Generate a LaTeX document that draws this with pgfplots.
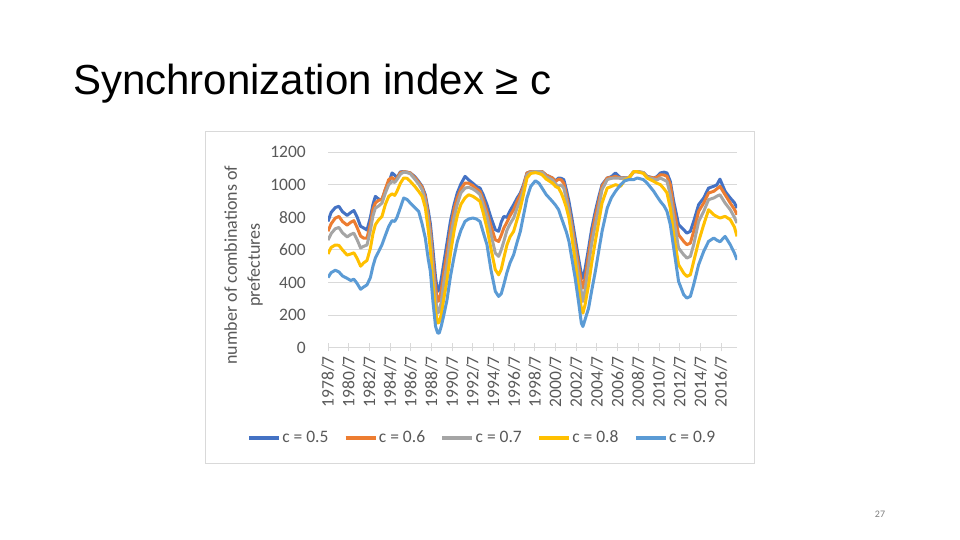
\documentclass[border=0pt]{standalone}
\usepackage{fontspec}
\setmainfont{Carlito}
\newfontfamily\titlefont{Liberation Sans}
\usepackage{pgfplots}
\pgfplotsset{compat=1.18}
\usepackage{pgfplotstable}
\definecolor{cA}{HTML}{4472C4}
\definecolor{cB}{HTML}{ED7D31}
\definecolor{cC}{HTML}{A5A5A5}
\definecolor{cD}{HTML}{FFC000}
\definecolor{cE}{HTML}{5B9BD5}
\definecolor{gridc}{HTML}{D9D9D9}
\definecolor{txt}{HTML}{595959}

\pgfplotstableread{
year s5 s6 s7 s8 s9
1978.5 775 715 660 575 430
1978.8 830 760 700 615 460
1979.2 860 795 730 630 475
1979.55 868 806 738 628 465
1979.9 835 775 705 600 440
1980.35 812 752 680 568 425
1980.7 830 770 695 575 412
1981.0 842 780 703 582 420
1981.3 805 740 665 550 395
1981.65 745 685 612 500 358
1981.95 735 672 622 520 372
1982.27 722 673 630 535 385
1982.6 800 760 720 610 430
1982.85 880 850 810 700 500
1983.08 929 888 857 755 550
1983.4 912 905 870 785 590
1983.72 909 909 888 806 632
1984.05 970 975 950 880 690
1984.37 1011 1032 1001 929 744
1984.69 1073 1045 1020 945 780
1984.95 1060 1030 1015 935 775
1985.17 1042 1042 1032 960 800
1985.5 1080 1075 1065 1010 860
1985.82 1081 1081 1079 1042 919
1986.15 1078 1078 1075 1040 910
1986.46 1073 1073 1068 1021 888
1986.9 1050 1045 1035 990 860
1987.27 1021 1015 1005 960 837
1987.6 990 985 970 930 760
1987.91 939 925 900 860 673
1988.2 840 810 780 720 540
1988.4 760 720 680 600 468
1988.65 600 540 480 390 280
1988.9 430 370 300 220 130
1989.1 345 283 211 150 90
1989.25 355 290 220 155 88
1989.45 420 350 280 200 130
1989.7 520 460 400 300 200
1990.0 640 580 510 410 290
1990.35 780 730 680 580 440
1990.7 880 850 800 720 560
1991.0 950 920 880 810 650
1991.35 1005 975 950 880 720
1991.75 1052 1011 980 920 775
1992.1 1030 1010 985 939 790
1992.5 1010 995 975 930 796
1992.85 990 975 960 915 790
1993.2 980 960 939 898 775
1993.5 940 910 880 830 710
1993.87 878 837 806 734 632
1994.25 800 750 700 610 480
1994.68 724 662 580 478 345
1995.0 714 652 560 447 314
1995.25 770 690 600 480 330
1995.5 806 734 652 550 386
1995.8 800 770 720 630 460
1996.1 840 810 760 680 520
1996.45 878 847 796 714 570
1996.8 920 900 860 790 650
1997.1 950 939 909 857 714
1997.4 1000 990 970 940 810
1997.74 1073 1073 1062 1042 919
1998.1 1081 1081 1078 1070 990
1998.55 1081 1081 1081 1075 1025
1998.9 1081 1081 1081 1070 1010
1999.2 1081 1081 1078 1062 980
1999.6 1060 1060 1050 1035 940
2000.2 1042 1042 1030 1011 898
2000.5 1025 1020 1005 990 875
2000.8 1042 1035 991 980 847
2001.05 1040 1030 1000 950 800
2001.3 1032 1010 980 909 755
2001.55 970 940 910 860 710
2001.8 898 857 837 796 652
2002.1 790 750 720 670 540
2002.4 673 632 591 529 427
2002.75 540 500 440 360 270
2003.0 450 400 340 240 150
2003.15 425 365 283 211 129
2003.35 480 420 350 260 170
2003.7 611 570 509 386 242
2004.0 730 690 640 520 350
2004.35 837 806 755 652 468
2004.7 930 905 870 780 600
2005.0 1001 991 970 888 714
2005.5 1042 1042 1032 980 857
2005.9 1050 1045 1040 990 920
2006.3 1073 1052 1042 1001 960
2006.8 1042 1042 1040 991 1001
2007.2 1045 1042 1042 1030 1025
2007.6 1042 1042 1042 1042 1032
2008.06 1081 1081 1081 1081 1032
2008.4 1081 1081 1081 1081 1042
2009.0 1075 1075 1075 1070 1032
2009.35 1052 1050 1048 1042 1011
2010.0 1042 1042 1035 1021 960
2010.3 1050 1045 1030 1010 930
2010.64 1073 1062 1042 1001 898
2011.0 1078 1060 1030 975 870
2011.28 1073 1052 1021 950 837
2011.6 1021 1001 939 857 755
2011.93 898 857 796 693 611
2012.4 755 693 611 509 406
2012.9 724 652 570 457 324
2013.2 703 632 550 437 304
2013.54 714 642 560 447 314
2013.86 775 714 632 529 386
2014.34 878 837 775 652 509
2014.83 919 888 837 755 591
2015.3 980 950 909 847 652
2015.8 991 960 919 816 673
2016.1 1000 975 930 805 660
2016.4 1035 991 939 796 650
2016.9 960 939 888 806 683
2017.4 919 888 847 786 632
2017.8 890 850 800 740 580
2018.05 857 816 765 683 539
}\data

\begin{document}
\begin{tikzpicture}
\useasboundingbox (0pt,0pt) rectangle (960pt,540pt);
\fill[white] (0pt,0pt) rectangle (960pt,540pt);
\node[anchor=base west, inner sep=0pt, font=\titlefont\fontsize{42}{50}\selectfont] at (73pt,445pt) {Synchronization index ≥ c};
\draw[gridc, line width=0.8pt] (205.5pt,409pt) rectangle (754.5pt,77pt);
\node[anchor=center, inner sep=0pt, text=gray, font=\fontsize{10}{12}\selectfont] at (880pt,26pt) {27};
\begin{axis}[
  at={(328pt,192.5pt)}, anchor=south west,
  scale only axis, width=409pt, height=195.2pt,
  xmin=1978.5, xmax=2018.05, ymin=0, ymax=1200,
  axis lines*=left,
  x axis line style={draw=gridc, line width=0.8pt},
  y axis line style={draw=none},
  ytick={0,200,400,600,800,1000,1200},
  ytick style={draw=none},
  ymajorgrids, grid style={draw=gridc, line width=0.8pt},
  xtick={1978.5,1980.5,1982.5,1984.5,1986.5,1988.5,1990.5,1992.5,1994.5,1996.5,1998.5,2000.5,2002.5,2004.5,2006.5,2008.5,2010.5,2012.5,2014.5,2016.5},
  xticklabels={1978/7,1980/7,1982/7,1984/7,1986/7,1988/7,1990/7,1992/7,1994/7,1996/7,1998/7,2000/7,2002/7,2004/7,2006/7,2008/7,2010/7,2012/7,2014/7,2016/7},
  xtick style={draw=gridc, line width=0.8pt},
  tick align=center, major tick length=8pt,
  /pgf/number format/1000 sep={},
  /pgf/number format/assume math mode=true,
  ticklabel style={font=\fontsize{17.5}{20}\selectfont, text=txt},
  xticklabel style={rotate=90, anchor=east, inner sep=0pt, xshift=-4.5pt},
  yticklabel style={anchor=east, inner sep=0pt, xshift=-18pt},
  ylabel={number of combinations of\\prefectures},
  ylabel style={at={(axis description cs:-0.2066,0.4226)}, anchor=center, align=center, font=\fontsize{18}{23}\selectfont, text=txt},
  legend columns=5,
  legend style={at={(axis description cs:0.3765,-0.4636)}, anchor=center, draw=none, fill=none,
    font=\fontsize{17.5}{20}\selectfont, text=txt,
    nodes={text height=12pt, text depth=3pt, inner sep=1.5pt},
    /tikz/every even column/.append style={column sep=14pt}},
  legend image code/.code={\draw[#1, line width=3.5pt] (0pt,0pt) -- (30pt,0pt);},
  every axis plot/.append style={line width=3pt, line join=round},
]
\addplot[cA] table[x=year, y=s5] {\data};
\addlegendentry{c = 0.5}
\addplot[cB] table[x=year, y=s6] {\data};
\addlegendentry{c = 0.6}
\addplot[cC] table[x=year, y=s7] {\data};
\addlegendentry{c = 0.7}
\addplot[cD] table[x=year, y=s8] {\data};
\addlegendentry{c = 0.8}
\addplot[cE] table[x=year, y=s9] {\data};
\addlegendentry{c = 0.9}
\end{axis}
\end{tikzpicture}
\end{document}
